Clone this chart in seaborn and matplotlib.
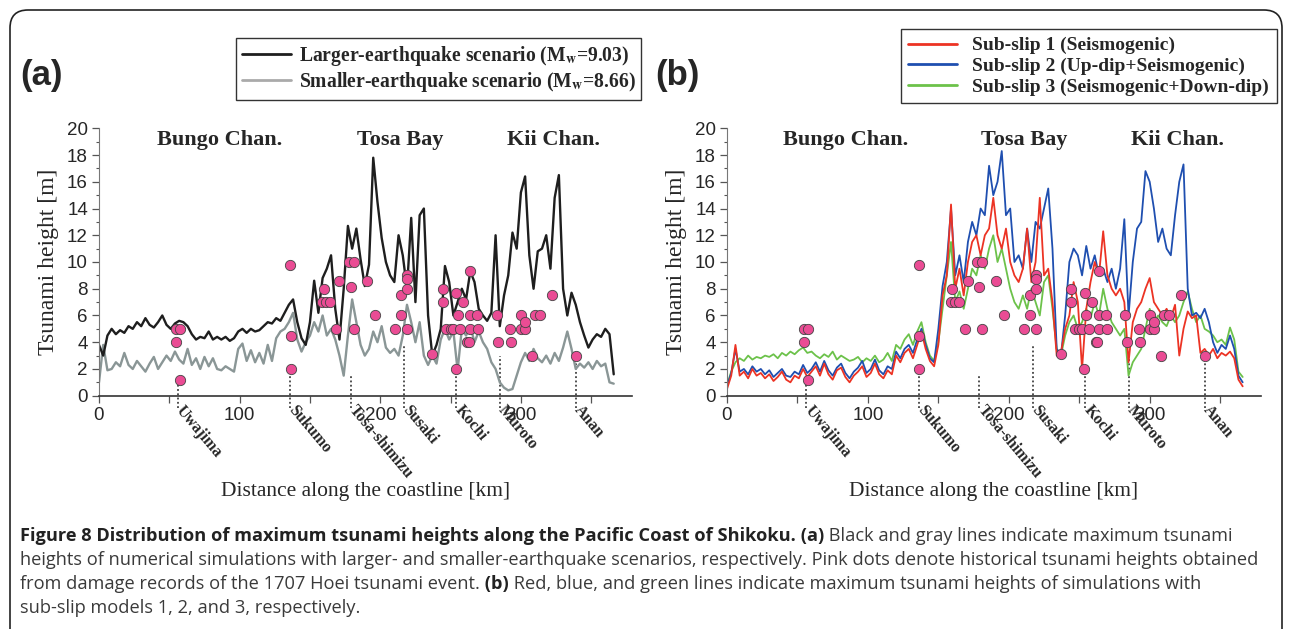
import matplotlib.pyplot as plt
import numpy as np
import pandas as pd
import seaborn as sns
from matplotlib.lines import Line2D
from matplotlib.patches import FancyBboxPatch
from matplotlib.transforms import blended_transform_factory

# -------------------------- data --------------------------
# distance grid along the coast [km] (one sample every 3 km)
km = np.arange(0, 367, 3)

# (a) larger / smaller earthquake scenarios
larger = [3.8, 3.0, 4.5, 5.0, 4.6, 4.9, 4.7, 5.2, 5.0, 5.5,
          5.2, 5.8, 5.3, 5.1, 5.5, 6.0, 5.3, 5.0, 5.4, 5.6,
          5.5, 5.2, 4.6, 4.2, 4.4, 4.3, 4.8, 4.2, 4.4, 4.2,
          4.4, 4.1, 4.3, 4.8, 5.0, 4.7, 5.0, 4.8, 4.9, 5.2,
          5.5, 5.4, 5.8, 5.6, 6.2, 6.8, 7.2, 5.5, 4.3, 3.8,
          5.5, 8.6, 6.2, 8.8, 9.5, 10.5, 6.5, 4.2, 8.0, 12.7,
          11.0, 12.5, 10.2, 8.2, 9.8, 17.8, 14.5, 11.8, 10.0, 9.0,
          8.5, 12.0, 10.5, 8.0, 13.3, 7.0, 13.5, 14.0, 6.0, 3.0,
          3.8, 5.0, 9.7, 8.5, 6.0, 7.0, 8.0, 7.2, 9.3, 8.5,
          6.5, 6.0, 5.6, 6.2, 12.0, 5.2, 7.5, 9.0, 12.2, 11.0,
          15.2, 16.4, 10.5, 8.0, 10.8, 11.0, 12.0, 9.5, 14.8, 16.5,
          8.0, 6.0, 7.7, 6.8, 5.5, 4.5, 3.6, 4.2, 4.6, 4.4,
          5.0, 4.6, 1.6]
smaller = [1.0, 3.8, 1.9, 2.0, 2.5, 2.2, 3.2, 2.3, 2.0, 2.6,
           2.2, 1.8, 2.4, 2.9, 2.0, 2.5, 3.0, 2.6, 3.3, 2.7,
           2.4, 3.5, 2.3, 2.8, 2.0, 2.9, 2.2, 2.8, 2.0, 1.9,
           2.2, 2.0, 1.8, 3.5, 3.9, 2.6, 3.4, 2.5, 3.2, 2.4,
           3.8, 2.6, 4.3, 4.8, 5.0, 5.5, 6.2, 4.2, 3.3, 4.0,
           4.5, 5.5, 4.8, 6.0, 4.5, 5.0, 4.2, 3.0, 1.5, 4.5,
           7.2, 5.5, 3.8, 3.0, 3.5, 4.8, 4.0, 5.2, 3.6, 3.2,
           3.5, 3.0, 4.5, 6.8, 5.5, 4.0, 5.5, 3.0, 2.3, 3.0,
           2.4, 4.2, 5.0, 4.2, 4.8, 1.9, 5.0, 4.5, 5.2, 4.0,
           4.8, 4.0, 3.5, 2.5, 2.0, 1.0, 0.6, 0.4, 0.5, 1.5,
           2.5, 3.2, 2.6, 3.5, 2.8, 2.5, 3.0, 2.4, 3.2, 2.6,
           3.6, 4.8, 3.5, 2.0, 2.4, 2.1, 2.5, 2.0, 2.6, 2.2,
           2.4, 1.0, 0.9]

# (b) sub-slip models
subslip1 = [0.5, 1.5, 3.8, 1.5, 1.8, 1.3, 2.0, 1.5, 1.7, 1.3,
            1.6, 1.1, 1.4, 1.8, 1.2, 1.0, 1.5, 1.3, 2.0, 1.4,
            1.8, 2.2, 1.5, 2.4, 1.6, 1.2, 1.9, 2.1, 1.4, 1.0,
            1.5, 1.8, 2.2, 1.4, 1.7, 2.4, 1.6, 1.3, 1.9, 1.6,
            3.0, 2.5, 3.2, 3.5, 2.8, 3.8, 4.8, 3.5, 2.6, 2.2,
            3.8, 7.5, 9.0, 14.3, 8.0, 9.5, 7.5, 10.0, 11.5, 12.0,
            10.5, 12.0, 12.5, 14.8, 12.0, 11.0, 12.5, 10.0, 9.0, 8.5,
            9.5, 12.5, 8.5, 10.0, 14.8, 9.0, 9.5, 7.0, 3.0, 3.2,
            5.0, 6.0, 8.5, 7.0, 2.0, 6.5, 8.5, 10.0, 9.0, 12.3,
            9.0, 8.0, 7.5, 8.0, 7.0, 2.5, 5.5, 6.5, 7.0, 8.0,
            8.8, 7.0, 6.5, 6.0, 6.5, 5.8, 6.8, 3.0, 5.0, 6.3,
            5.8, 6.0, 3.2, 3.5, 3.0, 3.5, 2.8, 3.2, 3.0, 3.3,
            2.8, 1.2, 0.7]
subslip2 = [0.7, 1.7, 3.5, 1.8, 2.0, 1.6, 2.2, 1.8, 2.0, 1.6,
            1.9, 1.4, 1.7, 2.0, 1.5, 1.4, 1.8, 1.6, 2.3, 1.7,
            2.0, 2.5, 1.8, 2.6, 1.9, 1.5, 2.1, 2.4, 1.7, 1.3,
            1.8, 2.1, 2.6, 1.7, 2.0, 2.7, 1.9, 1.6, 2.2, 2.0,
            3.3, 2.8, 3.5, 3.8, 3.2, 4.2, 5.0, 3.8, 2.8, 2.5,
            5.0, 8.2, 10.0, 14.0, 9.0, 10.5, 8.5, 11.5, 13.0, 12.0,
            14.0, 13.5, 17.2, 15.0, 16.0, 18.3, 13.5, 14.0, 10.0, 10.5,
            9.5, 12.5, 10.0, 13.0, 12.5, 14.0, 15.5, 11.0, 3.5, 3.0,
            6.0, 10.0, 11.0, 10.5, 9.0, 11.2, 9.5, 10.5, 9.0, 9.5,
            8.5, 9.5, 8.0, 9.5, 13.2, 6.0, 10.0, 12.5, 13.0, 16.8,
            16.0, 14.0, 11.5, 12.5, 11.0, 10.5, 13.5, 16.0, 17.3, 8.0,
            6.0, 6.2, 5.8, 6.5, 5.5, 4.0, 3.2, 3.8, 3.5, 4.5,
            3.5, 1.5, 1.0]
subslip3 = [0.8, 1.8, 2.5, 2.8, 2.6, 3.0, 2.7, 2.9, 2.8, 3.0,
            2.9, 3.1, 2.8, 3.2, 3.0, 3.3, 3.1, 3.4, 3.6, 3.2,
            3.3, 3.0, 2.8, 3.1, 2.9, 3.3, 2.7, 3.0, 2.8, 2.6,
            2.7, 2.9, 2.5, 2.8, 2.6, 3.0, 2.5, 2.7, 3.2, 2.6,
            3.8, 3.5, 4.2, 4.6, 3.8, 4.8, 5.5, 4.0, 3.0, 2.6,
            4.0, 6.5, 9.0, 11.5, 7.0, 7.8, 6.5, 8.0, 9.5, 9.0,
            10.5, 9.5, 11.0, 12.0, 10.0, 11.0, 9.5, 8.0, 7.0, 6.5,
            7.5, 6.5, 8.0, 7.0, 6.0, 8.5, 9.0, 6.5, 3.5, 3.0,
            4.5, 5.5, 6.0, 5.0, 5.5, 6.5, 5.8, 7.0, 6.0, 8.0,
            6.5, 5.5, 5.0, 4.5, 5.0, 1.5, 2.5, 3.0, 3.5, 5.0,
            6.5, 5.5, 6.0, 5.5, 5.2, 6.0, 5.5, 6.0, 7.0, 7.8,
            6.5, 5.5, 6.0, 5.0, 4.8, 4.5, 4.0, 4.2, 3.8, 5.1,
            4.2, 1.8, 1.4]

# historical heights of the 1707 Hoei tsunami (pink dots)
hist_km = [55, 57.6, 54.7, 57.6, 136, 136.6, 136.6, 160, 158.7, 161.6,
           164.5, 168.6, 171, 177.6, 181, 179, 181, 190.7, 196.5, 210.8,
           215, 215, 219, 219, 219, 219, 237, 244.5, 244.5, 246.8,
           250, 252, 254, 253.5, 255, 257, 259, 261.6, 262.8, 264,
           264, 263.7, 269, 269.8, 282.8, 284, 292.4, 293, 300.3, 300.3,
           303, 303, 308, 310, 313.4, 322, 339.5]
hist_h = [5.0, 5.0, 4.0, 1.2, 9.8, 4.5, 2.0, 8.0, 7.0, 7.0,
          7.0, 5.0, 8.6, 10.0, 10.0, 8.1, 5.0, 8.6, 6.0, 5.0,
          7.5, 6.0, 9.0, 8.7, 8.0, 5.0, 3.1, 8.0, 7.0, 5.0,
          5.0, 5.0, 7.7, 2.0, 6.0, 5.0, 7.0, 4.0, 4.0, 6.0,
          5.0, 9.3, 6.0, 5.0, 6.0, 4.0, 5.0, 4.0, 6.0, 5.0,
          5.0, 5.5, 3.0, 6.0, 6.0, 7.5, 3.0]

# places along the coast: position [km] and top of the dotted marker [m]
places = ['Uwajima', 'Sukumo', 'Tosa-shimizu', 'Susaki', 'Kochi', 'Muroto', 'Anan']
place_km = [56, 136, 179, 217, 254, 285, 339]
place_top = [1.2, 2.0, 1.5, 3.8, 2.0, 3.0, 3.0]

regions = ['Bungo Chan.', 'Tosa Bay', 'Kii Chan.']
region_km_a = [86, 214, 323]
region_km_b = [84, 211, 320]

df_a = pd.DataFrame({'km': km, 'larger': larger, 'smaller': smaller})
df_b = pd.DataFrame({'km': km, 's1': subslip1, 's2': subslip2, 's3': subslip3})
df_hist = pd.DataFrame({'km': hist_km, 'h': hist_h})

# -------------------------- style --------------------------
sns.set_style('ticks')
plt.rcParams['font.family'] = ['Liberation Serif', 'DejaVu Serif']
plt.rcParams['mathtext.fontset'] = 'stix'

W, H = 1292, 629
fig = plt.figure(figsize=(W / 100, H / 100), dpi=100)

serif = 'Liberation Serif'
sans = 'Liberation Sans'
c_black, c_gray = '#1e1e1e', '#8a9696'
c_red, c_blue, c_green = '#ec3324', '#1f4fb0', '#6cc24a'
c_pink = '#ea4c94'


def setup_axes(ax, region_km):
    ax.set_xlim(0, 379)
    ax.set_ylim(0, 20)
    ax.set_xticks(np.arange(0, 351, 50))
    ax.set_xticklabels(['0', '', '100', '', '200', '', '300', ''])
    ax.set_yticks(np.arange(0, 21, 2))
    ax.set_yticks(np.arange(1, 20, 2), minor=True)
    ax.tick_params(axis='both', which='major', labelsize=13.5, direction='out',
                   length=5, width=0.9, color='#555', pad=3)
    ax.tick_params(axis='y', which='minor', direction='out', length=2.5,
                   width=0.8, color='#555')
    for lab in ax.get_xticklabels() + ax.get_yticklabels():
        lab.set_fontfamily(sans)
    sns.despine(ax=ax)
    ax.spines['left'].set_color('#777')
    ax.spines['bottom'].set_color('#333')
    ax.spines['bottom'].set_linewidth(1.2)
    ax.text(0.5, -0.36, 'Distance along the coastline [km]', transform=ax.transAxes,
            ha='center', va='center', fontsize=15.5, family=serif)
    for name, xr in zip(regions, region_km):
        ax.text(xr, 19.1, name, ha='center', va='center', fontsize=16,
                fontweight='bold', family=serif)
    # dotted markers + rotated place names
    trans = blended_transform_factory(ax.transData, ax.transAxes)
    for name, xp, top in zip(places, place_km, place_top):
        ax.vlines(xp, -0.9, top, colors='#222', linestyles=(0, (1.2, 1.6)),
                  linewidth=1.1, clip_on=False, zorder=1)
        ax.text(xp + 1, -0.045, name, transform=trans, rotation=-50,
                rotation_mode='anchor', ha='left', va='center', fontsize=11.5,
                fontweight='bold', family=serif)
    sns.scatterplot(data=df_hist, x='km', y='h', ax=ax, color=c_pink, s=55,
                    edgecolor='#444', linewidth=0.6, zorder=5, legend=False)
    ax.set_xlabel('')
    ax.set_ylabel('Tsunami height [m]', fontsize=17, family=serif, labelpad=6)


# -------------------------- panel (a) --------------------------
ax_a = fig.add_axes([99 / W, 1 - 395.7 / H, 533 / W, 267.4 / H])
sns.lineplot(data=df_a, x='km', y='smaller', ax=ax_a, color=c_gray, lw=1.7)
sns.lineplot(data=df_a, x='km', y='larger', ax=ax_a, color=c_black, lw=1.7)
setup_axes(ax_a, region_km_a)

# -------------------------- panel (b) --------------------------
ax_b = fig.add_axes([727 / W, 1 - 395.7 / H, 534 / W, 267.4 / H])
sns.lineplot(data=df_b, x='km', y='s3', ax=ax_b, color=c_green, lw=1.3)
sns.lineplot(data=df_b, x='km', y='s2', ax=ax_b, color=c_blue, lw=1.3)
sns.lineplot(data=df_b, x='km', y='s1', ax=ax_b, color=c_red, lw=1.3)
setup_axes(ax_b, region_km_b)

# -------------------------- legends --------------------------
h_a = [Line2D([], [], color=c_black, lw=2), Line2D([], [], color='#aaaaaa', lw=2)]
l_a = ['Larger-earthquake scenario (M$_{\\mathbf{w}}$=9.03)',
       'Smaller-earthquake scenario (M$_{\\mathbf{w}}$=8.66)']
fig.legend(h_a, l_a, loc='upper left', bbox_to_anchor=(236 / W, 1 - 38 / H),
           borderaxespad=0, prop={'family': serif, 'weight': 'bold', 'size': 14.1},
           frameon=True, fancybox=False, edgecolor='#333', handlelength=2.5,
           handletextpad=0.4, labelspacing=0.1, borderpad=0.3, framealpha=1)

h_b = [Line2D([], [], color=c, lw=2) for c in (c_red, c_blue, c_green)]
l_b = ['Sub-slip 1 (Seismogenic)', 'Sub-slip 2 (Up-dip+Seismogenic)',
       'Sub-slip 3 (Seismogenic+Down-dip)']
fig.legend(h_b, l_b, loc='upper right', bbox_to_anchor=(1277 / W, 1 - 29 / H),
           borderaxespad=0, prop={'family': serif, 'weight': 'bold', 'size': 14},
           frameon=True, fancybox=False, edgecolor='#333', handlelength=2.5,
           handletextpad=0.8, labelspacing=0.15, borderpad=0.4, framealpha=1)

fig.text(20 / W, 1 - 75 / H, '(a)', fontsize=25, fontweight='bold', family=sans,
         ha='left', va='center')
fig.text(655 / W, 1 - 75 / H, '(b)', fontsize=25, fontweight='bold', family=sans,
         ha='left', va='center')

# rounded frame around the figure
frame = FancyBboxPatch((10, -60), W - 20, H - 10 + 60,
                       boxstyle='round,pad=0,rounding_size=18', transform=None,
                       fill=False, ec='#222', lw=1.2)
fig.add_artist(frame)

# -------------------------- caption --------------------------
cap_lines = [
    [('Figure 8 Distribution of maximum tsunami heights along the Pacific Coast of Shikoku.', True),
     (' (a)', True), (' Black and gray lines indicate maximum tsunami', False)],
    [('heights of numerical simulations with larger- and smaller-earthquake scenarios, '
      'respectively. Pink dots denote historical tsunami heights obtained', False)],
    [('from damage records of the 1707 Hoei tsunami event.', False), (' (b)', True),
     (' Red, blue, and green lines indicate maximum tsunami heights of simulations with', False)],
    [('sub-slip models 1, 2, and 3, respectively.', False)],
]
cap_y = [536, 560, 584, 608]
renderer = fig.canvas.get_renderer()
for parts, yy in zip(cap_lines, cap_y):
    x = 20
    for txt, bold in parts:
        t = fig.text(x / W, 1 - yy / H, txt, fontsize=13.15, family='Open Sans',
                     fontweight='bold' if bold else 'normal', color='#222' if bold else '#3a3a3a',
                     ha='left', va='center')
        x += t.get_window_extent(renderer).width

fig.savefig('out.png', dpi=100)
